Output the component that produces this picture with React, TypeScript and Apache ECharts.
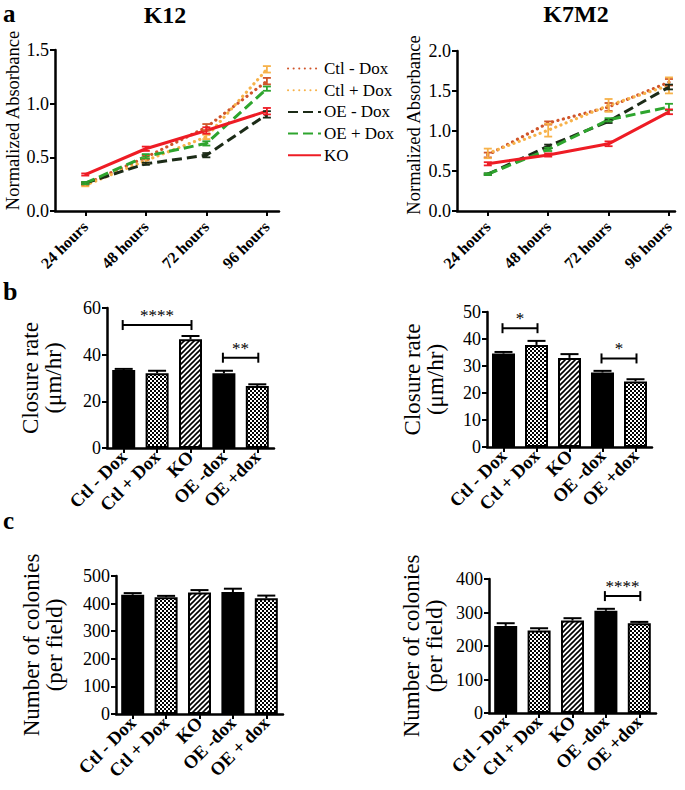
import React, { useEffect, useRef } from 'react';
import * as echarts from 'echarts';

const FONT = 'Liberation Serif';

// ---------- panel a: proliferation ----------
const HOURS = ['24 hours', '48 hours', '72 hours', '96 hours'];
const GROUPS = ['Ctl - Dox', 'Ctl + Dox', 'OE - Dox', 'OE + Dox', 'KO'];
const GROUP_COLORS = ['#D0552A', '#F7B24A', '#1C2B17', '#2EA52E', '#EE1C25'];
const GROUP_STYLES = ['dotted', 'dotted', 'dashed', 'dashed', 'solid'];

const K12_CTL_MINUS = [0.25, 0.50, 0.78, 1.21];
const K12_CTL_PLUS = [0.24, 0.47, 0.69, 1.32];
const K12_OE_MINUS = [0.26, 0.44, 0.52, 0.90];
const K12_OE_PLUS = [0.26, 0.51, 0.63, 1.14];
const K12_KO = [0.34, 0.58, 0.75, 0.93];

const K12_CTL_MINUS_ERR = [0.01, 0.02, 0.03, 0.03];
const K12_CTL_PLUS_ERR = [0.01, 0.02, 0.02, 0.03];
const K12_OE_MINUS_ERR = [0.01, 0.01, 0.02, 0.03];
const K12_OE_PLUS_ERR = [0.01, 0.02, 0.02, 0.02];
const K12_KO_ERR = [0.01, 0.02, 0.03, 0.03];

const K7M2_CTL_MINUS = [0.70, 1.10, 1.30, 1.61];
const K7M2_CTL_PLUS = [0.72, 1.01, 1.32, 1.57];
const K7M2_OE_MINUS = [0.46, 0.81, 1.12, 1.55];
const K7M2_OE_PLUS = [0.46, 0.77, 1.14, 1.30];
const K7M2_KO = [0.59, 0.70, 0.84, 1.24];

const K7M2_CTL_MINUS_ERR = [0.03, 0.02, 0.05, 0.04];
const K7M2_CTL_PLUS_ERR = [0.06, 0.08, 0.08, 0.10];
const K7M2_OE_MINUS_ERR = [0.01, 0.02, 0.02, 0.03];
const K7M2_OE_PLUS_ERR = [0.01, 0.02, 0.02, 0.04];
const K7M2_KO_ERR = [0.02, 0.02, 0.03, 0.03];

// ---------- panel b: closure rate ----------
const B_LEFT_CATS = ['Ctl - Dox', 'Ctl + Dox', 'KO', 'OE -dox', 'OE +dox'];
const B_LEFT_VALUES = [33.4, 32.0, 46.6, 32.0, 26.6];
const B_LEFT_ERR = [0.5, 1.1, 1.4, 1.1, 0.7];
const B_LEFT_SIG = [[0, 2, 52.7], [3, 4, 38.7]];
const B_LEFT_SIG_LABELS = ['****', '**'];

const B_RIGHT_CATS = ['Ctl - Dox', 'Ctl + Dox', 'KO', 'OE -dox', 'OE +dox'];
const B_RIGHT_VALUES = [34.6, 37.8, 33.0, 27.6, 24.3];
const B_RIGHT_ERR = [0.6, 1.5, 1.4, 0.6, 0.8];
const B_RIGHT_SIG = [[0, 1, 44.0], [3, 4, 32.8]];
const B_RIGHT_SIG_LABELS = ['*', '*'];

// ---------- panel c: colonies ----------
const C_LEFT_CATS = ['Ctl - Dox', 'Ctl + Dox', 'KO', 'OE -dox', 'OE + dox'];
const C_LEFT_VALUES = [432, 423, 440, 442, 419];
const C_LEFT_ERR = [6, 5, 9, 12, 10];

const C_RIGHT_CATS = ['Ctl - Dox', 'Ctl + Dox', 'KO', 'OE -dox', 'OE +dox'];
const C_RIGHT_VALUES = [260, 246, 276, 305, 268];
const C_RIGHT_ERR = [8, 7, 7, 6, 4];
const C_RIGHT_SIG = [[3, 4, 349]];
const C_RIGHT_SIG_LABELS = ['****'];

const BAR_FILLS = ['solid', 'checker', 'hatch', 'solid', 'checker'];

function makeChecker(): string {
  const c = document.createElement('canvas');
  c.width = 4;
  c.height = 4;
  const g = c.getContext('2d')!;
  g.fillStyle = '#fff';
  g.fillRect(0, 0, 4, 4);
  g.fillStyle = '#000';
  g.fillRect(0, 0, 2, 2);
  g.fillRect(2, 2, 2, 2);
  return c.toDataURL();
}

function makeHatch(): string {
  const s = 5;
  const c = document.createElement('canvas');
  c.width = s;
  c.height = s;
  const g = c.getContext('2d')!;
  g.fillStyle = '#fff';
  g.fillRect(0, 0, s, s);
  g.strokeStyle = '#000';
  g.lineWidth = 1.6;
  g.beginPath();
  g.moveTo(-1, s + 1);
  g.lineTo(s + 1, -1);
  g.moveTo(-1, 1);
  g.lineTo(1, -1);
  g.moveTo(s - 1, s + 1);
  g.lineTo(s + 1, s - 1);
  g.stroke();
  return c.toDataURL();
}

export default function App() {
  const ref = useRef<HTMLDivElement>(null);

  useEffect(() => {
    const chart = echarts.init(ref.current!, null, { renderer: 'svg' });

    const checker = { image: makeChecker(), repeat: 'repeat', imageWidth: 4, imageHeight: 4 };
    const hatch = { image: makeHatch(), repeat: 'repeat', imageWidth: 5, imageHeight: 5 };
    const fillFor = (k: string) => (k === 'solid' ? '#000' : k === 'checker' ? checker : hatch);

    const axisLine = { show: true, onZero: false, lineStyle: { color: '#000', width: 2.5 } };
    const axisTick = { show: true, length: 5, lineStyle: { color: '#000', width: 2 } };
    const tickLabel = { color: '#000', fontFamily: FONT, fontSize: 18, margin: 6 };

    const grids = [
      { left: 55, top: 50, width: 224, height: 161 },
      { left: 457, top: 51, width: 218, height: 160 },
      { left: 107, top: 308, width: 167, height: 140 },
      { left: 487, top: 312, width: 165, height: 135 },
      { left: 116, top: 576, width: 167, height: 138 },
      { left: 489, top: 579, width: 167, height: 134 },
    ].map((g) => ({ ...g, containLabel: false, outerBoundsMode: 'none' }));

    const lineX = (idx: number, min: number, max: number) => ({
      type: 'value',
      gridIndex: idx,
      min,
      max,
      axisLine,
      axisTick: { ...axisTick, customValues: [1, 2, 3, 4] },
      splitLine: { show: false },
      axisLabel: {
        customValues: [1, 2, 3, 4],
        formatter: (v: number) => HOURS[Math.round(v) - 1] ?? '',
        rotate: 45,
        color: '#000',
        fontFamily: FONT,
        fontWeight: 'bold',
        fontSize: 16,
        margin: 13,
      },
    });

    const barX = (idx: number, cats: string[]) => ({
      type: 'category',
      gridIndex: idx,
      data: cats,
      axisLine,
      axisTick: { ...axisTick, alignWithLabel: true, interval: 0 },
      axisLabel: {
        interval: 0,
        rotate: 45,
        color: '#000',
        fontFamily: FONT,
        fontWeight: 'bold',
        fontSize: 18.5,
        margin: 6,
      },
    });

    const yAx = (
      idx: number,
      max: number,
      interval: number,
      name: string,
      nameGap: number,
      fontSize: number,
      decimals: number,
      shiftUp: number
    ) => ({
      type: 'value',
      gridIndex: idx,
      min: 0,
      max,
      interval,
      axisLine,
      axisTick,
      splitLine: { show: false },
      axisLabel: { ...tickLabel, formatter: (v: number) => v.toFixed(decimals) },
      name,
      nameLocation: 'middle',
      nameGap,
      nameTextStyle: {
        color: '#000',
        fontFamily: FONT,
        fontSize,
        lineHeight: fontSize,
        padding: shiftUp > 0 ? [0, 0, 0, shiftUp * 2] : 0,
      },
    });

    const lineType = (s: string) =>
      s === 'dotted' ? [0.1, 5.5] : s === 'dashed' ? [10, 5] : 'solid';

    const lineSets = [
      {
        values: [K12_CTL_MINUS, K12_CTL_PLUS, K12_OE_MINUS, K12_OE_PLUS, K12_KO],
        errs: [K12_CTL_MINUS_ERR, K12_CTL_PLUS_ERR, K12_OE_MINUS_ERR, K12_OE_PLUS_ERR, K12_KO_ERR],
      },
      {
        values: [K7M2_CTL_MINUS, K7M2_CTL_PLUS, K7M2_OE_MINUS, K7M2_OE_PLUS, K7M2_KO],
        errs: [K7M2_CTL_MINUS_ERR, K7M2_CTL_PLUS_ERR, K7M2_OE_MINUS_ERR, K7M2_OE_PLUS_ERR, K7M2_KO_ERR],
      },
    ];

    const series: any[] = [];

    lineSets.forEach((set, ci) => {
      set.values.forEach((vals, gi) => {
        series.push({
          type: 'line',
          name: GROUPS[gi],
          xAxisIndex: ci,
          yAxisIndex: ci,
          symbol: 'none',
          z: 2 + gi * 0.1,
          data: vals.map((v, i) => [i + 1, v]),
          lineStyle: {
            color: GROUP_COLORS[gi],
            width: GROUP_STYLES[gi] === 'dotted' ? 3.2 : 3,
            type: lineType(GROUP_STYLES[gi]),
            cap: GROUP_STYLES[gi] === 'dotted' ? 'round' : 'butt',
          },
          itemStyle: { color: GROUP_COLORS[gi] },
        });
      });
    });

    lineSets.forEach((set, ci) => {
      set.values.forEach((vals, gi) => {
        const color = GROUP_COLORS[gi];
        series.push({
          type: 'custom',
          name: GROUPS[gi] + ' error',
          xAxisIndex: ci,
          yAxisIndex: ci,
          z: 3,
          data: vals.map((v, i) => [i + 1, v, set.errs[gi][i]]),
          renderItem: (_p: any, api: any) => {
            const x = api.value(0);
            const y = api.value(1);
            const e = api.value(2);
            const hi = api.coord([x, y + e]);
            const lo = api.coord([x, y - e]);
            const st = { stroke: color, lineWidth: 1.8 };
            return {
              type: 'group',
              children: [
                { type: 'line', shape: { x1: hi[0], y1: hi[1], x2: lo[0], y2: lo[1] }, style: st },
                { type: 'line', shape: { x1: hi[0] - 4, y1: hi[1], x2: hi[0] + 4, y2: hi[1] }, style: st },
                { type: 'line', shape: { x1: lo[0] - 4, y1: lo[1], x2: lo[0] + 4, y2: lo[1] }, style: st },
              ],
            };
          },
        });
      });
    });

    const bars = [
      { idx: 2, values: B_LEFT_VALUES, errs: B_LEFT_ERR, sig: B_LEFT_SIG, sigLabels: B_LEFT_SIG_LABELS },
      { idx: 3, values: B_RIGHT_VALUES, errs: B_RIGHT_ERR, sig: B_RIGHT_SIG, sigLabels: B_RIGHT_SIG_LABELS },
      { idx: 4, values: C_LEFT_VALUES, errs: C_LEFT_ERR, sig: [] as number[][], sigLabels: [] as string[] },
      { idx: 5, values: C_RIGHT_VALUES, errs: C_RIGHT_ERR, sig: C_RIGHT_SIG, sigLabels: C_RIGHT_SIG_LABELS },
    ];

    bars.forEach((b) => {
      series.push({
        type: 'bar',
        xAxisIndex: b.idx,
        yAxisIndex: b.idx,
        barWidth: 23,
        z: 2,
        data: b.values.map((v, i) => ({
          value: v,
          itemStyle: { color: fillFor(BAR_FILLS[i]) },
        })),
        itemStyle: { borderColor: '#000', borderWidth: 2 },
      });
      series.push({
        type: 'custom',
        xAxisIndex: b.idx,
        yAxisIndex: b.idx,
        z: 3,
        data: b.values.map((v, i) => [i, v, b.errs[i]]),
        renderItem: (_p: any, api: any) => {
          const x = api.value(0);
          const y = api.value(1);
          const e = api.value(2);
          const base = api.coord([x, y]);
          const hi = api.coord([x, y + e]);
          const st = { stroke: '#000', lineWidth: 2 };
          return {
            type: 'group',
            children: [
              { type: 'line', shape: { x1: base[0], y1: base[1], x2: hi[0], y2: hi[1] }, style: st },
              { type: 'line', shape: { x1: hi[0] - 9, y1: hi[1], x2: hi[0] + 9, y2: hi[1] }, style: st },
            ],
          };
        },
      });
      if (b.sig.length) {
        series.push({
          type: 'custom',
          xAxisIndex: b.idx,
          yAxisIndex: b.idx,
          z: 4,
          encode: { x: [0, 1], y: 2 },
          data: b.sig,
          renderItem: (p: any, api: any) => {
            const i1 = api.value(0);
            const i2 = api.value(1);
            const y = api.value(2);
            const a = api.coord([i1, y]);
            const c = api.coord([i2, y]);
            const st = { stroke: '#000', lineWidth: 2 };
            return {
              type: 'group',
              children: [
                { type: 'line', shape: { x1: a[0] - 1, y1: a[1], x2: c[0] + 1, y2: c[1] }, style: st },
                { type: 'line', shape: { x1: a[0] - 1, y1: a[1] - 5, x2: a[0] - 1, y2: a[1] + 5 }, style: st },
                { type: 'line', shape: { x1: c[0] + 1, y1: c[1] - 5, x2: c[0] + 1, y2: c[1] + 5 }, style: st },
                {
                  type: 'text',
                  x: (a[0] + c[0]) / 2,
                  y: a[1] - 1,
                  style: {
                    text: b.sigLabels[p.dataIndex],
                    fill: '#000',
                    font: `17px "${FONT}"`,
                    align: 'center',
                    verticalAlign: 'bottom',
                  },
                },
              ],
            };
          },
        });
      }
    });

    const bold = (size: number) => `bold ${size}px "${FONT}"`;
    const gText = (text: string, x: number, y: number, size: number, align = 'center') => ({
      type: 'text',
      x,
      y,
      style: { text, fill: '#000', font: bold(size), align, verticalAlign: 'middle' },
    });

    const option: any = {
      animation: false,
      backgroundColor: '#fff',
      textStyle: { fontFamily: FONT },
      grid: grids,
      legend: {
        orient: 'vertical',
        left: 287,
        top: 60,
        padding: 0,
        itemWidth: 33,
        itemHeight: 14,
        itemGap: 4.7,
        selectedMode: false,
        data: GROUPS,
        itemStyle: { opacity: 0 },
        textStyle: { color: '#000', fontFamily: FONT, fontSize: 17, padding: [0, 0, 0, -2] },
      },
      xAxis: [
        lineX(0, 0.5, 4.2),
        lineX(1, 0.49, 4.1),
        barX(2, B_LEFT_CATS),
        barX(3, B_RIGHT_CATS),
        barX(4, C_LEFT_CATS),
        barX(5, C_RIGHT_CATS),
      ],
      yAxis: [
        yAx(0, 1.5, 0.5, 'Normalized Absorbance', 25, 18.5, 1, 10),
        yAx(1, 2.0, 0.5, 'Normalized Absorbance', 34, 18.5, 1, 6),
        yAx(2, 60, 20, 'Closure rate\n(μm/hr)', 42, 23, 0, 0),
        yAx(3, 50, 10, 'Closure rate\n(μm/hr)', 40, 23, 0, 0),
        yAx(4, 500, 100, 'Number of colonies\n(per field)', 50, 23, 0, 0),
        yAx(5, 400, 100, 'Number of colonies\n(per field)', 43, 23, 0, 0),
      ],
      series,
      graphic: {
        elements: [
          gText('a', 3, 13.5, 25, 'left'),
          gText('b', 3, 291.5, 26, 'left'),
          gText('c', 3, 520, 25, 'left'),
          gText('K12', 165, 14.5, 24),
          gText('K7M2', 576, 14, 24),
        ],
      },
    };

    chart.setOption(option);
    return () => chart.dispose();
  }, []);

  return (
    <div
      ref={ref}
      style={{ position: 'absolute', left: 0, top: 0, width: 685, height: 790, background: '#fff' }}
    />
  );
}
